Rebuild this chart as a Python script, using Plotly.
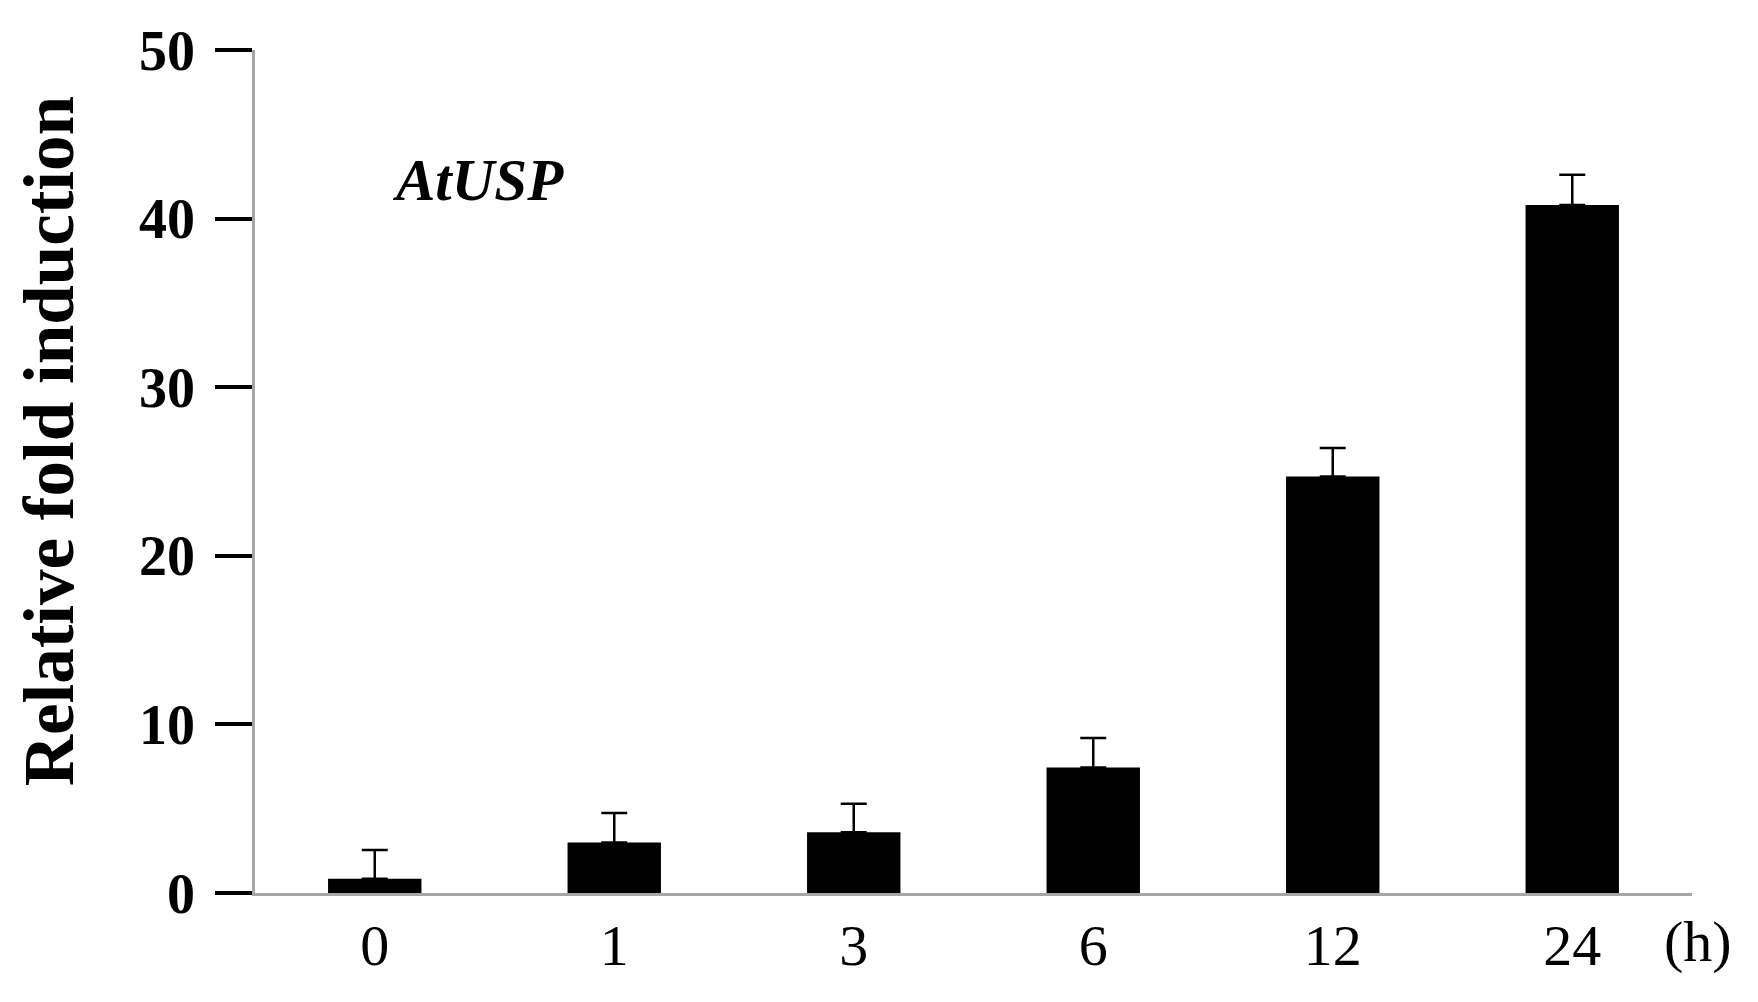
import plotly.graph_objects as go

# ========== 数据 ==========
time_points = ['0', '1', '3', '6', '12', '24']
fold_mean = [0.85, 3.0, 3.6, 7.45, 24.7, 40.8]
fold_err = [1.7, 1.75, 1.7, 1.75, 1.7, 1.8]
y_ticks = [0, 10, 20, 30, 40, 50]

FONT = 'Liberation Serif'

fig = go.Figure()
fig.add_trace(go.Bar(
    x=time_points, y=fold_mean, width=0.39,
    marker=dict(color='black', line=dict(width=0)),
    error_y=dict(type='data', symmetric=False, array=fold_err,
                 arrayminus=[0] * len(fold_err),
                 color='black', thickness=2.5, width=13),
    showlegend=False,
))

# 页面body默认有8px边距，这里的边距已经扣掉
fig.update_layout(
    width=1758, height=1002,
    margin=dict(l=247, r=74, t=36, b=117),
    plot_bgcolor='white', paper_bgcolor='white',
    font=dict(family=FONT, color='black'),
    xaxis=dict(
        type='category', range=[-0.5, 5.5],
        showline=True, linecolor='#a6a6a6', linewidth=2.5,
        ticks='', showgrid=False, zeroline=False,
        tickfont=dict(family=FONT, size=58, color='black'),
        ticklabelstandoff=0,
    ),
    yaxis=dict(
        range=[0, 50], tickvals=y_ticks,
        showline=True, linecolor='#a6a6a6', linewidth=2.5,
        ticks='outside', ticklen=37, tickwidth=3.5, tickcolor='black',
        showgrid=False, zeroline=False,
        tickfont=dict(family=FONT, size=56, color='black', weight='bold'),
        ticklabelstandoff=9,
    ),
    annotations=[
        dict(text='<b>Relative fold induction</b>', textangle=-90,
             xref='paper', yref='paper', x=(49 - 255) / 1438, y=0.536,
             xanchor='center', yanchor='middle', showarrow=False,
             font=dict(family=FONT, size=71, color='black')),
        dict(text='<b><i>AtUSP</i></b>',
             xref='paper', yref='paper', x=0.155, y=0.846,
             xanchor='center', yanchor='middle', showarrow=False,
             font=dict(family=FONT, size=59, color='black')),
        dict(text='(h)',
             xref='paper', yref='paper', x=1.004, y=-0.058,
             xanchor='center', yanchor='middle', showarrow=False,
             font=dict(family=FONT, size=58, color='black')),
    ],
)

fig.write_html('out.html')
